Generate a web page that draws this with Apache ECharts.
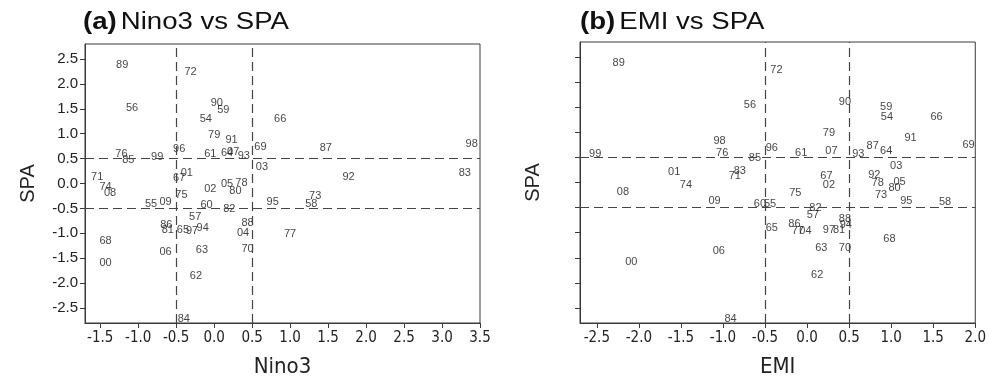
<!DOCTYPE html>
<html>
<head>
<meta charset="utf-8">
<script src="https://cdn.jsdelivr.net/npm/echarts@6/dist/echarts.min.js"></script>
<style>html,body{margin:0;padding:0;background:#fff;}#c{width:989px;height:383px;}</style>
</head>
<body>
<div id="c"></div>
<script>
// Panel (a): Nino3 vs SPA
const yearsA = ['89','72','56','90','59','54','66','79','91','69','87','98','96','76','85','99','61','64','07','93','03','92','83','71','74','08','01','67','75','02','05','78','80','55','09','60','82','95','73','58','57','86','81','65','97','94','88','04','77','68','06','63','70','00','62','84'];
const nino3 = [-1.21,-0.31,-1.08,0.035,0.12,-0.11,0.87,0.00,0.23,0.61,1.47,3.39,-0.46,-1.22,-1.13,-0.75,-0.05,0.17,0.25,0.39,0.63,1.77,3.30,-1.54,-1.43,-1.37,-0.36,-0.46,-0.43,-0.05,0.17,0.36,0.28,-0.83,-0.64,-0.10,0.20,0.77,1.33,1.28,-0.25,-0.63,-0.61,-0.41,-0.29,-0.15,0.44,0.38,1.00,-1.43,-0.64,-0.16,0.44,-1.43,-0.24,-0.40];
const spaA = [2.37,2.24,1.52,1.61,1.48,1.30,1.30,0.97,0.87,0.74,0.72,0.79,0.69,0.60,0.48,0.54,0.59,0.62,0.63,0.55,0.33,0.13,0.21,0.13,-0.06,-0.20,0.21,0.11,-0.24,-0.11,0.00,0.02,-0.14,-0.42,-0.38,-0.44,-0.52,-0.38,-0.26,-0.42,-0.67,-0.83,-0.93,-0.93,-0.95,-0.90,-0.80,-1.00,-1.02,-1.15,-1.37,-1.33,-1.32,-1.59,-1.86,-2.72];

// Panel (b): EMI vs SPA
const yearsB = ['89','72','56','98','76','85','96','99','01','83','71','74','08','09','60','55','65','06','00','84','90','59','54','66','79','91','69','87','64','61','07','93','03','67','02','92','78','05','80','73','95','58','75','82','57','86','77','04','97','81','88','94','63','70','62','68'];
const emi = [-2.24,-0.365,-0.68,-1.04,-1.01,-0.62,-0.42,-2.52,-1.58,-0.80,-0.86,-1.44,-2.19,-1.10,-0.56,-0.44,-0.42,-1.05,-2.09,-0.91,0.45,0.94,0.95,1.54,0.26,1.23,1.92,0.78,0.94,-0.07,0.29,0.61,1.06,0.23,0.26,0.80,0.84,1.10,1.04,0.88,1.18,1.64,-0.14,0.10,0.07,-0.15,-0.11,-0.02,0.26,0.38,0.45,0.46,0.17,0.45,0.12,0.98];
const spaB = [2.38,2.25,1.54,0.82,0.59,0.48,0.69,0.56,0.21,0.23,0.13,-0.05,-0.19,-0.37,-0.42,-0.42,-0.91,-1.36,-1.58,-2.71,1.60,1.50,1.31,1.31,0.98,0.88,0.75,0.73,0.63,0.59,0.63,0.56,0.33,0.13,-0.05,0.15,0.00,0.02,-0.10,-0.25,-0.37,-0.39,-0.21,-0.51,-0.65,-0.83,-0.96,-0.97,-0.95,-0.95,-0.72,-0.85,-1.30,-1.30,-1.85,-1.13];

const xTicksA = [-1.5,-1.0,-0.5,0.0,0.5,1.0,1.5,2.0,2.5,3.0,3.5];
const xTicksB = [-2.5,-2.0,-1.5,-1.0,-0.5,0.0,0.5,1.0,1.5,2.0];
const yTicks = [-2.5,-2.0,-1.5,-1.0,-0.5,0.0,0.5,1.0,1.5,2.0,2.5];
const xRefs = [-0.5, 0.5];
const yRefs = [-0.5, 0.5];

const frame = '#3a3a3a';
const narrow = 'DejaVu Sans Condensed, Liberation Sans Narrow, Arial Narrow, sans-serif';
const fmt = v => Number(v).toFixed(1);

function xAxis(idx, ticks, min, max, name) {
  return {
    type: 'value', gridIndex: idx, min: min, max: max,
    name: name, nameLocation: 'middle', nameGap: 33,
    nameTextStyle: {fontFamily: narrow, fontSize: 22, color: '#222'},
    axisLine: {show: true, onZero: false, lineStyle: {color: frame, width: 1}},
    axisTick: {show: true, length: 5, lineStyle: {color: frame}, customValues: ticks},
    axisLabel: {show: true, customValues: ticks, formatter: fmt, margin: 8,
      fontFamily: narrow, fontSize: 15, color: '#222'},
    splitLine: {show: false}
  };
}
function yAxis(idx, showLabels, gap) {
  return {
    type: 'value', gridIndex: idx, min: -2.8, max: 2.8,
    name: 'SPA', nameLocation: 'middle', nameGap: gap, nameRotate: 90,
    nameTextStyle: {fontFamily: 'Liberation Sans, Arial', fontSize: 20, color: '#222'},
    axisLine: {show: true, onZero: false, lineStyle: {color: frame, width: 1}},
    axisTick: {show: true, length: 5, lineStyle: {color: frame}, customValues: yTicks},
    axisLabel: {show: showLabels, customValues: yTicks, formatter: fmt, margin: 7,
      fontFamily: 'Liberation Sans, Arial', fontSize: 15, color: '#222'},
    splitLine: {show: false}
  };
}
function series(idx, xs, ys, labs) {
  const data = xs.map((x, i) => [x, ys[i], labs[i]]);
  return {
    type: 'scatter', xAxisIndex: idx, yAxisIndex: idx,
    data: data, symbolSize: 0, silent: true,
    itemStyle: {color: '#000'},
    label: {show: true, position: 'inside', formatter: p => p.data[2],
      fontFamily: 'Liberation Sans, Arial', fontSize: 11, color: '#111',
      textBorderWidth: 0},
    markLine: {
      silent: true, symbol: 'none', animation: false,
      label: {show: false},
      lineStyle: {color: '#444', type: [9, 5], width: 1.2},
      data: xRefs.map(v => ({xAxis: v})).concat(yRefs.map(v => ({yAxis: v})))
    }
  };
}

const titleRich = {
  b: {fontFamily: 'Liberation Sans, Arial', fontWeight: 'bold', fontSize: 23, fill: '#111'},
  n: {fontFamily: 'Liberation Sans, Arial', fontWeight: 'normal', fontSize: 23, fill: '#111'}
};

const chart = echarts.init(document.getElementById('c'), null, {renderer: 'canvas'});
chart.setOption({
  animation: false,
  backgroundColor: '#fff',
  graphic: [
    {type: 'text', x: 83, y: 11, scaleX: 1.2, silent: true,
     style: {text: '{b|(a)} {n|Nino3 vs SPA}', rich: titleRich, fill: '#111'}},
    {type: 'text', x: 580, y: 11, scaleX: 1.2, silent: true,
     style: {text: '{b|(b)} {n|EMI vs SPA}', rich: titleRich, fill: '#111'}}
  ],
  grid: [
    {left: 85, top: 44, width: 395, height: 282, show: true, borderColor: frame, borderWidth: 1, backgroundColor: 'transparent'},
    {left: 580, top: 42, width: 397, height: 284, show: true, borderColor: frame, borderWidth: 1, backgroundColor: 'transparent'}
  ],
  xAxis: [xAxis(0, xTicksA, -1.7, 3.5, 'Nino3'), xAxis(1, xTicksB, -2.7, 2.0, 'EMI')],
  yAxis: [yAxis(0, true, 47), yAxis(1, false, 37)],
  series: [series(0, nino3, spaA, yearsA), series(1, emi, spaB, yearsB)]
});
</script>
</body>
</html>
